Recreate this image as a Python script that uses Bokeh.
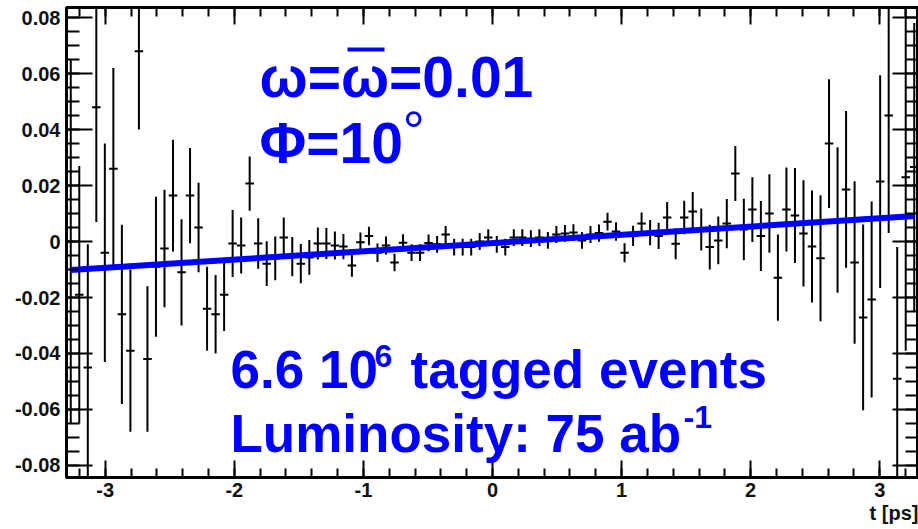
import numpy as np
from bokeh.plotting import figure
from bokeh.models import Range1d, LinearAxis, FixedTicker, Label, BoxAnnotation, ColumnDataSource, Title
from bokeh.embed import file_html
from bokeh.resources import INLINE

# ---------------- data ----------------
# histogram: 100 bins between -3.3 and 3.3 ps
bin_lo, bin_hi, n_bins = -3.3, 3.3, 100

asym = [
    0.0, -0.019, -0.045, 0.048, -0.004, 0.026, -0.026, -0.039, 0.068, -0.042,
    -0.009, -0.0025, 0.0164, -0.011, 0.0164, 0.005, -0.024, -0.026, -0.019, -0.0007,
    -0.0014, 0.0207, -0.0007, -0.0079, -0.006, 0.0014, -0.0054, -0.0079, -0.0057, -0.0007,
    -0.0007, -0.0014, -0.0018, -0.0086, -0.0003, 0.002, -0.004, -0.0014, -0.0075, -0.0004,
    -0.004, -0.004, -0.0005, -0.001, 0.0025, -0.002, -0.002, -0.002, 0.0, 0.0014,
    -0.001, -0.002, 0.0014, 0.0014, 0.001, 0.0014, 0.0004, 0.0025, 0.0029, 0.0032,
    0.0004, 0.0025, 0.003, 0.0071, 0.0036, -0.004, 0.002, 0.0064, 0.0032, 0.002,
    0.0086, -0.0008, 0.0086, 0.0107, 0.0043, -0.002, 0.0004, 0.0064, 0.0243, 0.0043,
    0.0114, 0.002, 0.010, -0.0129, 0.0114, 0.0093, 0.0029, -0.0018, -0.006, 0.035,
    0.0077, 0.0186, -0.0075, -0.0271, -0.0207, 0.0214, 0.045, -0.049, 0.023, 0.0266,
]
asym_err = [
    0.065, 0.046, 0.044, 0.041, 0.039, 0.036, 0.032, 0.029, 0.028, 0.026,
    0.025, 0.021, 0.020, 0.019, 0.017, 0.016, 0.015, 0.014, 0.013, 0.012,
    0.010, 0.0097, 0.009, 0.008, 0.0078, 0.0072, 0.007, 0.007, 0.0062, 0.0057,
    0.0055, 0.005, 0.0045, 0.004, 0.0035, 0.0033, 0.0033, 0.0032, 0.0031, 0.003,
    0.003, 0.003, 0.003, 0.003, 0.003, 0.003, 0.003, 0.003, 0.003, 0.003,
    0.003, 0.003, 0.003, 0.003, 0.003, 0.003, 0.003, 0.003, 0.003, 0.003,
    0.003, 0.003, 0.0031, 0.0032, 0.0033, 0.0034, 0.0036, 0.004, 0.0045, 0.0047,
    0.0055, 0.0055, 0.006, 0.007, 0.0075, 0.008, 0.0085, 0.0088, 0.0098, 0.011,
    0.0116, 0.0125, 0.014, 0.0154, 0.015, 0.017, 0.019, 0.020, 0.0225, 0.023,
    0.026, 0.028, 0.029, 0.0332, 0.035, 0.038, 0.042, 0.047, 0.062, 0.0515,
]

# fitted line (end points)
fit_t = [-3.27, 3.27]
fit_v = [-0.0102, 0.0091]

x_ticks = [-3, -2, -1, 0, 1, 2, 3]
x_tick_labels = ["-3", "-2", "-1", "0", "1", "2", "3"]
y_ticks = [-0.08, -0.06, -0.04, -0.02, 0, 0.02, 0.04, 0.06, 0.08]
y_tick_labels = ["-0.08", "-0.06", "-0.04", "-0.02", "0", "0.02", "0.04", "0.06", "0.08"]
x_title = "t [ps]"

# ---------------- geometry helpers ----------------
W, H = 918, 529
FL, FR, FT, FB = 66, 918, 7, 477
x0, x1 = -3.3, 3.3
y0, y1 = -0.0843, 0.0836


def px2t(px):
    return x0 + (px - FL) * (x1 - x0) / (FR - FL)


def px2v(py):
    return y1 - (py - FT) * (y1 - y0) / (FB - FT)


edges = np.linspace(bin_lo, bin_hi, n_bins + 1)
centers = 0.5 * (edges[:-1] + edges[1:])
a = np.array(asym)
e = np.array(asym_err)
src = ColumnDataSource(dict(t=centers, v=a, lo=a - e, hi=a + e,
                            l=edges[:-1], r=edges[1:]))

p = figure(width=W, height=H, x_range=Range1d(x0, x1), y_range=Range1d(y0, y1),
           output_backend="svg", toolbar_location=None,
           min_border_left=FL, min_border_right=0, min_border_top=FT,
           min_border_bottom=H - FB)
p.xgrid.visible = False
p.ygrid.visible = False
p.outline_line_color = "black"
p.outline_line_width = 3
p.background_fill_color = "white"
p.border_fill_color = "white"

x_minor = [round(-3.2 + 0.2 * k, 2) for k in range(33)]
y_minor = [round(-0.08 + 0.005 * k, 3) for k in range(33)]

FONT = "Liberation Sans"


def style_axis(ax, ticks, minor, labels, tin, mtin, show_labels):
    ax.ticker = FixedTicker(ticks=ticks, minor_ticks=minor)
    ax.major_tick_in = tin
    ax.major_tick_out = 0
    ax.minor_tick_in = mtin
    ax.minor_tick_out = 0
    ax.axis_line_width = 3
    ax.axis_line_color = "black"
    ax.major_tick_line_width = 2
    ax.minor_tick_line_width = 2
    ax.major_tick_line_color = "black"
    ax.minor_tick_line_color = "black"
    if show_labels:
        ax.major_label_overrides = {t: s for t, s in zip(ticks, labels)}
        ax.major_label_text_font = FONT
        ax.major_label_text_font_style = "bold"
        ax.major_label_text_font_size = "20px"
        ax.major_label_text_color = "#111111"
        ax.major_label_standoff = 6
    else:
        ax.major_label_overrides = {t: "" for t in ticks}
        ax.major_label_text_font_size = "0px"
        ax.major_label_standoff = 0


style_axis(p.xaxis[0], x_ticks, x_minor, x_tick_labels, 17, 9, True)
p.xaxis[0].major_label_standoff = 5
style_axis(p.yaxis[0], y_ticks, y_minor, y_tick_labels, 26, 13, True)
top = LinearAxis()
style_axis(top, x_ticks, x_minor, x_tick_labels, 17, 9, False)
p.add_layout(top, "above")
right = LinearAxis()
style_axis(right, y_ticks, y_minor, y_tick_labels, 26, 13, False)
p.add_layout(right, "right")

# axis title at the lower right, as ROOT puts it
p.add_layout(Title(text=x_title, align="right", text_font=FONT, text_font_size="20px",
                   text_font_style="bold", text_color="#111111", standoff=0, offset=0),
             "below")

# data points with errors
p.segment(x0="t", y0="lo", x1="t", y1="hi", source=src, line_color="black", line_width=2)
p.segment(x0="l", y0="v", x1="r", y1="v", source=src, line_color="black", line_width=2)

# fit line
p.line(fit_t, fit_v, line_color="#0000ff", line_width=6)

BLUE = "#0000ff"


def lab(px, py, text, size, style="bold", font=FONT):
    # py: wanted baseline in pixels; Bokeh places the alphabetic baseline ~0.36 em lower
    s = float(size.replace("px", ""))
    p.add_layout(Label(x=px2t(px), y=px2v(py - 0.36 * s), text=text, text_font=font,
                       text_font_size=size, text_font_style=style,
                       text_color=BLUE, text_align="left",
                       text_baseline="alphabetic"))


lab(259, 97, "ω=ω=0.01", "57px")
p.add_layout(BoxAnnotation(left=px2t(347), right=px2t(384), top=px2v(47), bottom=px2v(51),
                           fill_color=BLUE, fill_alpha=1.0, line_alpha=0))
lab(259, 163, "Φ=10", "57px")
lab(402, 150, "°", "56px", style="normal")
lab(230, 388, "6.6 10", "53px")
lab(374, 367, "6", "32px")
lab(410, 388, "tagged events", "53px")
lab(230, 452, "Luminosity: 75 ab", "53px")
lab(683, 428, "-1", "32px")

open("out.html", "w").write(file_html(p, INLINE))
